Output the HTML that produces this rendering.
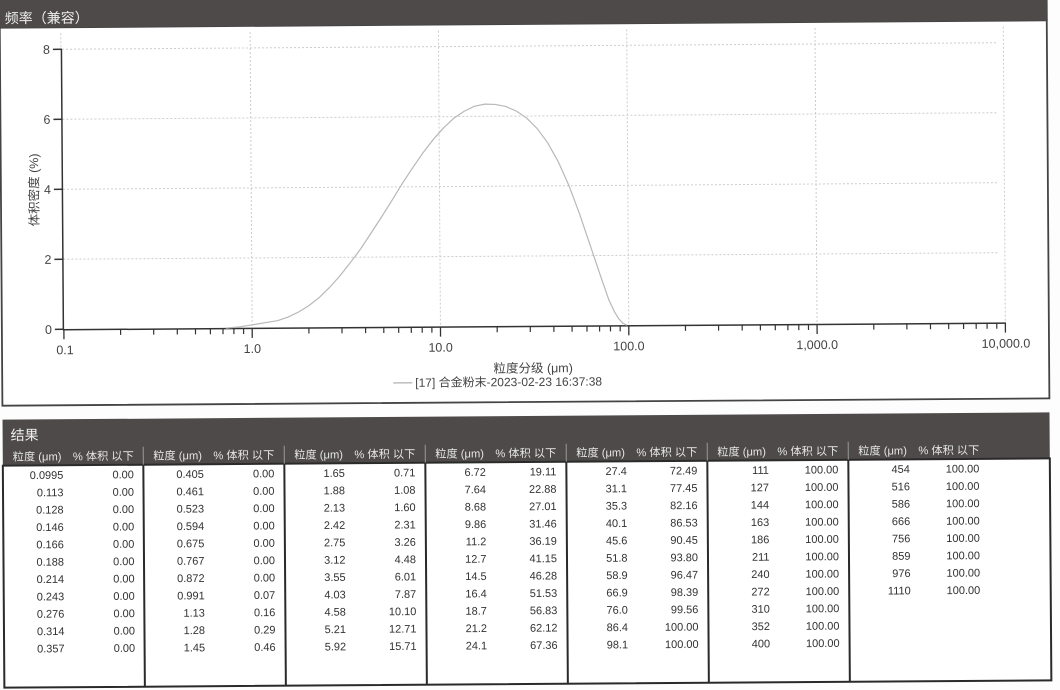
<!DOCTYPE html>
<html><head><meta charset="utf-8"><style>
html,body{margin:0;padding:0;background:#fff;width:1060px;height:690px;overflow:hidden}
svg{display:block}
text{font-family:"Liberation Sans","Noto Sans CJK SC",sans-serif}
</style></head><body>
<svg width="1060" height="690" viewBox="0 0 1060 690" xmlns="http://www.w3.org/2000/svg">
<rect width="1060" height="690" fill="#fdfdfd"/>
<g transform="rotate(-0.4 530 345)">
<!-- chart panel -->
<rect x="2" y="24" width="1047" height="378" fill="#fff" stroke="#444" stroke-width="1.8"/>
<rect x="-10" y="-12" width="1060" height="36" fill="#4d4a49"/>
<text x="7" y="19.5" font-size="14" fill="#eeeeee">频率（兼容）</text>

<!-- grid -->
<g stroke="#cccccc" stroke-width="1" stroke-dasharray="2 2" fill="none">
<line x1="64" y1="46" x2="1000" y2="46"/>
<line x1="64" y1="116" x2="1000" y2="116"/>
<line x1="64" y1="186" x2="1000" y2="186"/>
<line x1="64" y1="256" x2="1000" y2="256"/>
<line x1="63" y1="30" x2="63" y2="46"/>
<line x1="252.3" y1="30" x2="252.3" y2="326"/>
<line x1="440.6" y1="30" x2="440.6" y2="326"/>
<line x1="628.9" y1="30" x2="628.9" y2="326"/>
<line x1="817.2" y1="30" x2="817.2" y2="326"/>
<line x1="1005.5" y1="30" x2="1005.5" y2="326"/>
</g>

<!-- axes -->
<g stroke="#333" stroke-width="1.5" fill="none">
<line x1="63.5" y1="46" x2="63.5" y2="326.5"/>
<line x1="63" y1="326.5" x2="1006" y2="326.5"/>
<line x1="55" y1="46" x2="64" y2="46"/>
<line x1="55" y1="116" x2="64" y2="116"/>
<line x1="55" y1="186" x2="64" y2="186"/>
<line x1="55" y1="256" x2="64" y2="256"/>
<line x1="55" y1="326" x2="64" y2="326"/>
</g>
<g stroke="#333" stroke-width="1.3">
<line x1="64" y1="326" x2="64" y2="336"/>
<line x1="252.3" y1="326" x2="252.3" y2="336"/>
<line x1="440.6" y1="326" x2="440.6" y2="336"/>
<line x1="628.9" y1="326" x2="628.9" y2="336"/>
<line x1="817.2" y1="326" x2="817.2" y2="336"/>
<line x1="1005.5" y1="326" x2="1005.5" y2="336"/>
</g>
<g stroke="#333" stroke-width="1.2">
<line x1="120.7" y1="326" x2="120.7" y2="332"/><line x1="153.8" y1="326" x2="153.8" y2="332"/><line x1="177.4" y1="326" x2="177.4" y2="332"/><line x1="195.6" y1="326" x2="195.6" y2="332"/><line x1="210.5" y1="326" x2="210.5" y2="332"/><line x1="223.1" y1="326" x2="223.1" y2="332"/><line x1="234" y1="326" x2="234" y2="332"/><line x1="243.7" y1="326" x2="243.7" y2="332"/>
<line x1="309" y1="326" x2="309" y2="332"/><line x1="342.1" y1="326" x2="342.1" y2="332"/><line x1="365.7" y1="326" x2="365.7" y2="332"/><line x1="383.9" y1="326" x2="383.9" y2="332"/><line x1="398.8" y1="326" x2="398.8" y2="332"/><line x1="411.4" y1="326" x2="411.4" y2="332"/><line x1="422.3" y1="326" x2="422.3" y2="332"/><line x1="432" y1="326" x2="432" y2="332"/>
<line x1="497.3" y1="326" x2="497.3" y2="332"/><line x1="530.4" y1="326" x2="530.4" y2="332"/><line x1="554" y1="326" x2="554" y2="332"/><line x1="572.2" y1="326" x2="572.2" y2="332"/><line x1="587.1" y1="326" x2="587.1" y2="332"/><line x1="599.7" y1="326" x2="599.7" y2="332"/><line x1="610.6" y1="326" x2="610.6" y2="332"/><line x1="620.3" y1="326" x2="620.3" y2="332"/>
<line x1="685.6" y1="326" x2="685.6" y2="332"/><line x1="718.7" y1="326" x2="718.7" y2="332"/><line x1="742.3" y1="326" x2="742.3" y2="332"/><line x1="760.5" y1="326" x2="760.5" y2="332"/><line x1="775.4" y1="326" x2="775.4" y2="332"/><line x1="788" y1="326" x2="788" y2="332"/><line x1="798.9" y1="326" x2="798.9" y2="332"/><line x1="808.6" y1="326" x2="808.6" y2="332"/>
<line x1="873.9" y1="326" x2="873.9" y2="332"/><line x1="907" y1="326" x2="907" y2="332"/><line x1="930.6" y1="326" x2="930.6" y2="332"/><line x1="948.8" y1="326" x2="948.8" y2="332"/><line x1="963.7" y1="326" x2="963.7" y2="332"/><line x1="976.3" y1="326" x2="976.3" y2="332"/><line x1="987.2" y1="326" x2="987.2" y2="332"/><line x1="996.9" y1="326" x2="996.9" y2="332"/>
</g>

<!-- tick labels -->
<g font-size="12.5" fill="#444" text-anchor="end">
<text x="52" y="50.5">8</text>
<text x="52" y="120.5">6</text>
<text x="52" y="190.5">4</text>
<text x="52" y="260.5">2</text>
<text x="52" y="330.5">0</text>
</g>
<g font-size="12.5" fill="#444" text-anchor="middle">
<text x="65" y="351">0.1</text>
<text x="252.3" y="351">1.0</text>
<text x="440.6" y="351">10.0</text>
<text x="628.9" y="351">100.0</text>
<text x="817.2" y="351">1,000.0</text>
<text x="1006" y="351">10,000.0</text>
<text x="533" y="372.5">粒度分级 (μm)</text>
</g>
<text transform="translate(39.5 186.5) rotate(-90)" font-size="12.5" fill="#444" text-anchor="middle">体积密度 (%)</text>

<!-- legend -->
<line x1="393" y1="382" x2="412" y2="382" stroke="#a8a8a8" stroke-width="1.2"/>
<text x="415" y="386" font-size="12" fill="#444">[17] 合金粉末-2023-02-23 16:37:38</text>

<!-- curve -->
<polyline fill="none" stroke="#b8b8b8" stroke-width="1.2" stroke-linejoin="round" points="226,326 240,324.8 248,323.6 256.9,322.2 267.4,320.5 277.6,318.9 288,315.5 298.6,310.5 309,304.2 319.4,296.2 329.8,286.2 340.2,274.8 350.6,261.8 361.1,248 371.5,232.5 382,216.6 392.5,200.2 402.9,183.4 413.3,167.9 423.8,152.8 434.2,139.4 444.7,127.7 455,118 465.6,110.9 476,105.9 486.4,103.8 496.9,104.2 507.3,106.3 517.8,110.9 528.2,118 538.6,128.5 549,142.8 559.4,161.6 569.9,185.5 580.4,214 590.8,245.5 601.2,276.9 609,300 614.5,312 619,319.5 623,323.8 627,326"/>

<!-- table -->
<rect x="2" y="416" width="1047" height="46.5" fill="#4d4a49"/>
<text x="10" y="436.5" font-size="14" fill="#eeeeee">结果</text>
<rect x="2" y="462" width="1047" height="222" fill="#fff" stroke="#2a2a2a" stroke-width="2"/>
<g stroke="#999" stroke-width="1">
<line x1="142.5" y1="444" x2="142.5" y2="462"/><line x1="283.5" y1="444" x2="283.5" y2="462"/><line x1="424.5" y1="444" x2="424.5" y2="462"/><line x1="565.5" y1="444" x2="565.5" y2="462"/><line x1="706.5" y1="444" x2="706.5" y2="462"/><line x1="847.5" y1="444" x2="847.5" y2="462"/>
</g>
<g stroke="#2a2a2a" stroke-width="2">
<line x1="142.5" y1="462" x2="142.5" y2="684"/><line x1="283.5" y1="462" x2="283.5" y2="684"/><line x1="424.5" y1="462" x2="424.5" y2="684"/><line x1="565.5" y1="462" x2="565.5" y2="684"/><line x1="706.5" y1="462" x2="706.5" y2="684"/><line x1="847.5" y1="462" x2="847.5" y2="684"/>
</g>
<g font-size="11.2" fill="#e6e6e6">
<text x="12" y="457">粒度 (μm)</text><text x="133" y="457" text-anchor="end">% 体积 以下</text>
<text x="152.5" y="457">粒度 (μm)</text><text x="273.5" y="457" text-anchor="end">% 体积 以下</text>
<text x="293.5" y="457">粒度 (μm)</text><text x="414.5" y="457" text-anchor="end">% 体积 以下</text>
<text x="434.5" y="457">粒度 (μm)</text><text x="555.5" y="457" text-anchor="end">% 体积 以下</text>
<text x="575.5" y="457">粒度 (μm)</text><text x="696.5" y="457" text-anchor="end">% 体积 以下</text>
<text x="716.5" y="457">粒度 (μm)</text><text x="837.5" y="457" text-anchor="end">% 体积 以下</text>
<text x="857.5" y="457">粒度 (μm)</text><text x="978.5" y="457" text-anchor="end">% 体积 以下</text>
</g>
<g font-size="11" fill="#333" text-anchor="end">
<!-- G1 -->
<text x="62.5" y="475.5">0.0995</text><text x="133" y="475.5">0.00</text>
<text x="62.5" y="492.9">0.113</text><text x="133" y="492.9">0.00</text>
<text x="62.5" y="510.2">0.128</text><text x="133" y="510.2">0.00</text>
<text x="62.5" y="527.6">0.146</text><text x="133" y="527.6">0.00</text>
<text x="62.5" y="544.9">0.166</text><text x="133" y="544.9">0.00</text>
<text x="62.5" y="562.3">0.188</text><text x="133" y="562.3">0.00</text>
<text x="62.5" y="579.6">0.214</text><text x="133" y="579.6">0.00</text>
<text x="62.5" y="597">0.243</text><text x="133" y="597">0.00</text>
<text x="62.5" y="614.3">0.276</text><text x="133" y="614.3">0.00</text>
<text x="62.5" y="631.7">0.314</text><text x="133" y="631.7">0.00</text>
<text x="62.5" y="649">0.357</text><text x="133" y="649">0.00</text>
<!-- G2 -->
<text x="203" y="475.5">0.405</text><text x="273.5" y="475.5">0.00</text>
<text x="203" y="492.9">0.461</text><text x="273.5" y="492.9">0.00</text>
<text x="203" y="510.2">0.523</text><text x="273.5" y="510.2">0.00</text>
<text x="203" y="527.6">0.594</text><text x="273.5" y="527.6">0.00</text>
<text x="203" y="544.9">0.675</text><text x="273.5" y="544.9">0.00</text>
<text x="203" y="562.3">0.767</text><text x="273.5" y="562.3">0.00</text>
<text x="203" y="579.6">0.872</text><text x="273.5" y="579.6">0.00</text>
<text x="203" y="597">0.991</text><text x="273.5" y="597">0.07</text>
<text x="203" y="614.3">1.13</text><text x="273.5" y="614.3">0.16</text>
<text x="203" y="631.7">1.28</text><text x="273.5" y="631.7">0.29</text>
<text x="203" y="649">1.45</text><text x="273.5" y="649">0.46</text>
<!-- G3 -->
<text x="344" y="475.5">1.65</text><text x="414.5" y="475.5">0.71</text>
<text x="344" y="492.9">1.88</text><text x="414.5" y="492.9">1.08</text>
<text x="344" y="510.2">2.13</text><text x="414.5" y="510.2">1.60</text>
<text x="344" y="527.6">2.42</text><text x="414.5" y="527.6">2.31</text>
<text x="344" y="544.9">2.75</text><text x="414.5" y="544.9">3.26</text>
<text x="344" y="562.3">3.12</text><text x="414.5" y="562.3">4.48</text>
<text x="344" y="579.6">3.55</text><text x="414.5" y="579.6">6.01</text>
<text x="344" y="597">4.03</text><text x="414.5" y="597">7.87</text>
<text x="344" y="614.3">4.58</text><text x="414.5" y="614.3">10.10</text>
<text x="344" y="631.7">5.21</text><text x="414.5" y="631.7">12.71</text>
<text x="344" y="649">5.92</text><text x="414.5" y="649">15.71</text>
<!-- G4 -->
<text x="485" y="475.5">6.72</text><text x="555.5" y="475.5">19.11</text>
<text x="485" y="492.9">7.64</text><text x="555.5" y="492.9">22.88</text>
<text x="485" y="510.2">8.68</text><text x="555.5" y="510.2">27.01</text>
<text x="485" y="527.6">9.86</text><text x="555.5" y="527.6">31.46</text>
<text x="485" y="544.9">11.2</text><text x="555.5" y="544.9">36.19</text>
<text x="485" y="562.3">12.7</text><text x="555.5" y="562.3">41.15</text>
<text x="485" y="579.6">14.5</text><text x="555.5" y="579.6">46.28</text>
<text x="485" y="597">16.4</text><text x="555.5" y="597">51.53</text>
<text x="485" y="614.3">18.7</text><text x="555.5" y="614.3">56.83</text>
<text x="485" y="631.7">21.2</text><text x="555.5" y="631.7">62.12</text>
<text x="485" y="649">24.1</text><text x="555.5" y="649">67.36</text>
<!-- G5 -->
<text x="626" y="475.5">27.4</text><text x="696.5" y="475.5">72.49</text>
<text x="626" y="492.9">31.1</text><text x="696.5" y="492.9">77.45</text>
<text x="626" y="510.2">35.3</text><text x="696.5" y="510.2">82.16</text>
<text x="626" y="527.6">40.1</text><text x="696.5" y="527.6">86.53</text>
<text x="626" y="544.9">45.6</text><text x="696.5" y="544.9">90.45</text>
<text x="626" y="562.3">51.8</text><text x="696.5" y="562.3">93.80</text>
<text x="626" y="579.6">58.9</text><text x="696.5" y="579.6">96.47</text>
<text x="626" y="597">66.9</text><text x="696.5" y="597">98.39</text>
<text x="626" y="614.3">76.0</text><text x="696.5" y="614.3">99.56</text>
<text x="626" y="631.7">86.4</text><text x="696.5" y="631.7">100.00</text>
<text x="626" y="649">98.1</text><text x="696.5" y="649">100.00</text>
<!-- G6 -->
<text x="768" y="475.5">111</text><text x="837.5" y="475.5">100.00</text>
<text x="768" y="492.9">127</text><text x="837.5" y="492.9">100.00</text>
<text x="768" y="510.2">144</text><text x="837.5" y="510.2">100.00</text>
<text x="768" y="527.6">163</text><text x="837.5" y="527.6">100.00</text>
<text x="768" y="544.9">186</text><text x="837.5" y="544.9">100.00</text>
<text x="768" y="562.3">211</text><text x="837.5" y="562.3">100.00</text>
<text x="768" y="579.6">240</text><text x="837.5" y="579.6">100.00</text>
<text x="768" y="597">272</text><text x="837.5" y="597">100.00</text>
<text x="768" y="614.3">310</text><text x="837.5" y="614.3">100.00</text>
<text x="768" y="631.7">352</text><text x="837.5" y="631.7">100.00</text>
<text x="768" y="649">400</text><text x="837.5" y="649">100.00</text>
<!-- G7 -->
<text x="909" y="475.5">454</text><text x="978.5" y="475.5">100.00</text>
<text x="909" y="492.9">516</text><text x="978.5" y="492.9">100.00</text>
<text x="909" y="510.2">586</text><text x="978.5" y="510.2">100.00</text>
<text x="909" y="527.6">666</text><text x="978.5" y="527.6">100.00</text>
<text x="909" y="544.9">756</text><text x="978.5" y="544.9">100.00</text>
<text x="909" y="562.3">859</text><text x="978.5" y="562.3">100.00</text>
<text x="909" y="579.6">976</text><text x="978.5" y="579.6">100.00</text>
<text x="909" y="597">1110</text><text x="978.5" y="597">100.00</text>
</g>
</g>
</svg>
</body></html>
